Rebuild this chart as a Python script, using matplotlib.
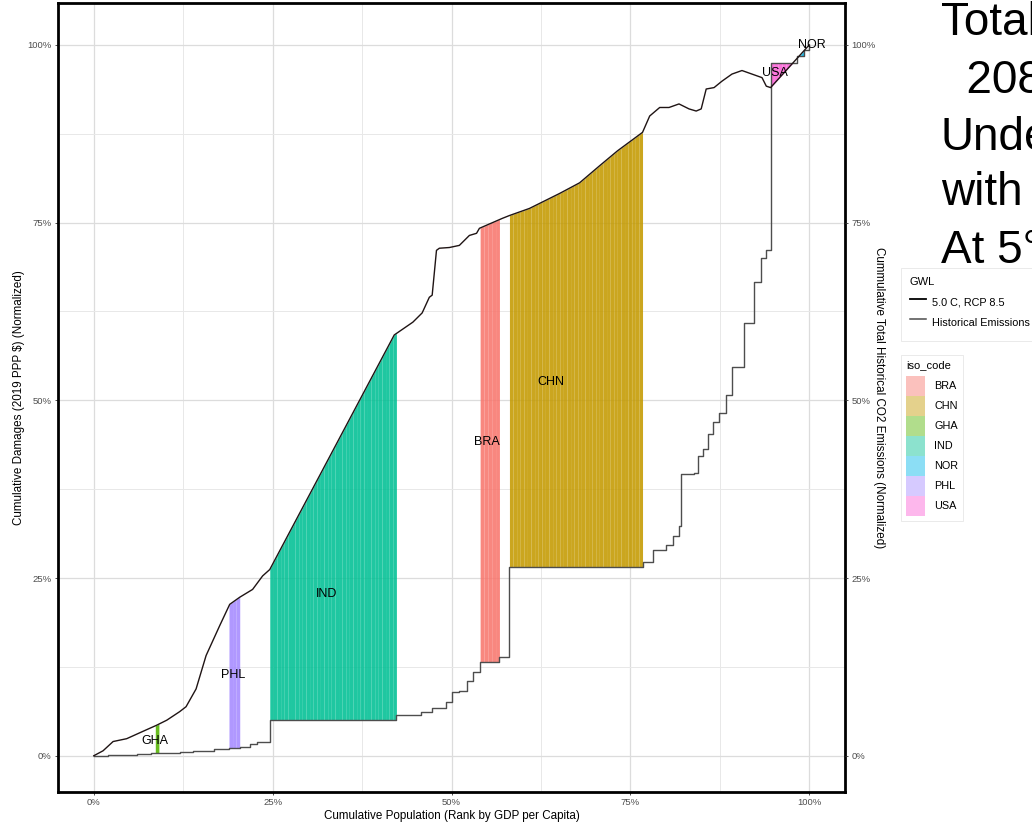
import numpy as np
import matplotlib
matplotlib.use("Agg")
import matplotlib.pyplot as plt
from matplotlib.lines import Line2D
from matplotlib.patches import Patch
from matplotlib.ticker import FuncFormatter, MultipleLocator

plt.rcParams['font.family'] = ['Liberation Sans', 'DejaVu Sans']

# Cumulative damages under 5.0 C / RCP 8.5 (x: cumulative population %, y: cumulative damages %)
damage_pop = [0, 1.3, 2.7, 4.6, 6.8, 8.8, 10.2, 12.0, 12.9, 14.3, 15.7, 17.6, 19.0, 20.4,
              22.2, 23.6, 24.6, 42.0, 44.6, 45.9, 46.9, 47.3, 47.9, 48.3, 49.7, 51.1, 52.5,
              53.5, 53.9, 57.1, 58.1, 60.9, 65.1, 67.9, 70.7, 73.2, 76.7, 77.7, 79.1, 80.4,
              81.8, 83.2, 84.2, 84.9, 85.6, 86.7, 87.8, 89.2, 90.6, 92.0, 93.4, 94.0, 94.6, 100]
damage_share = [0, 0.7, 2.0, 2.4, 3.4, 4.3, 5.0, 6.2, 6.9, 9.4, 14.1, 18.3, 21.3, 22.3,
                23.4, 25.3, 26.2, 59.2, 61.0, 62.3, 64.5, 64.8, 71.1, 71.4, 71.5, 71.8, 73.2,
                73.5, 74.2, 75.6, 76.0, 77.0, 79.1, 80.6, 83.0, 85.1, 87.7, 90.0, 91.2, 91.2,
                91.7, 91.0, 90.7, 91.0, 93.8, 94.0, 94.9, 95.9, 96.4, 95.9, 95.4, 94.2, 94.0, 100]

# Cumulative historical CO2 emissions (step function, value holds from each x onward)
emis_pop = [0, 2, 4, 6, 8, 8.6, 10, 12, 13.8, 16.8, 18.7, 18.9, 20.5, 21.8, 22.8, 24.6,
            42.3, 45.8, 47.3, 49.3, 50.1, 51.1, 52.2, 53.0, 54.0, 56.7, 58.1, 76.7, 78.1,
            80.0, 80.9, 81.8, 82.1, 83.9, 84.4, 85.1, 85.8, 86.5, 87.4, 88.4, 89.2, 90.9,
            92.3, 93.3, 93.9, 94.6, 98.3, 99.2, 100]
emis_share = [0, 0.08, 0.15, 0.25, 0.33, 0.4, 0.45, 0.55, 0.65, 0.9, 1.0, 1.15, 1.3, 1.7,
              2.0, 5.0, 5.7, 6.2, 6.7, 7.6, 9.0, 9.1, 10.5, 11.8, 13.2, 13.9, 26.6, 27.3,
              29.0, 29.7, 30.9, 32.3, 39.6, 39.8, 42.1, 43.1, 45.2, 47.0, 48.2, 50.8, 54.7,
              60.9, 66.6, 70.0, 71.1, 97.4, 98.4, 99.3, 100]

# Legend levels and ggplot hue palette
iso_codes = ["BRA", "CHN", "GHA", "IND", "NOR", "PHL", "USA"]
iso_colors = ["#F8766D", "#C49A00", "#53B400", "#00C094", "#00B6EB", "#A58AFF", "#FB61D7"]

# Highlighted countries: population band and label anchor
band_iso = ["GHA", "PHL", "IND", "BRA", "CHN", "USA", "NOR"]
band_start = [8.6, 18.9, 24.6, 54.0, 58.1, 94.6, 98.4]
band_end = [9.1, 20.4, 42.3, 56.7, 76.7, 97.8, 99.3]
label_x = [8.6, 19.5, 32.5, 54.9, 63.9, 95.2, 100.4]
label_y = [2.1, 11.3, 22.7, 44.2, 52.6, 96.1, 100.0]

side_text = ["Total", "  2080", "Under", "with", "At 5°C"]

emis_pop_a = np.array(emis_pop)
emis_share_a = np.array(emis_share)


def emissions_at(x):
    idx = np.searchsorted(emis_pop_a, x, side="right") - 1
    return emis_share_a[np.clip(idx, 0, None)]


fig = plt.figure(figsize=(10.32, 8.23), dpi=100)
ax = fig.add_axes([58 / 1032, 1 - 792 / 823, (845 - 58) / 1032, (792 - 3) / 823])
ax.set_xlim(-5, 105)
ax.set_ylim(-5.1, 105.9)

color_of = dict(zip(iso_codes, iso_colors))

# Country bands between the emissions step curve and the damages curve
for iso, a, b in zip(band_iso, band_start, band_end):
    base = emissions_at((a + b) / 2)
    n = max(1, int(round((b - a) / 0.5)))
    edges = np.linspace(a, b, n + 1)
    for lo, hi in zip(edges[:-1], edges[1:]):
        xs = np.linspace(lo, hi, 6)
        top = np.interp(xs, damage_pop, damage_share)
        ax.fill_between(xs, base, top, color=color_of[iso], alpha=0.88,
                        linewidth=0, zorder=2)

ax.step(emis_pop, emis_share, where="post", color="#4d4d4d", lw=1.0, zorder=3)
ax.plot(damage_pop, damage_share, color="#1f1414", lw=1.0, zorder=4)

for iso, lx, ly in zip(band_iso, label_x, label_y):
    ax.text(lx, ly, iso, ha="center", va="center", fontsize=9, color="black", zorder=5)

pct = FuncFormatter(lambda v, p: f"{v:.0f}%")
for axis in (ax.xaxis, ax.yaxis):
    axis.set_major_locator(MultipleLocator(25))
    axis.set_minor_locator(MultipleLocator(12.5))
    axis.set_major_formatter(pct)
ax.grid(which="major", color="#DCDCDC", lw=0.9)
ax.grid(which="minor", color="#E8E8E8", lw=0.7)
ax.set_axisbelow(True)
ax.tick_params(which="major", length=2.5, width=0.6, color="#333333",
               labelsize=6.8, labelcolor="#4D4D4D", pad=2)
ax.tick_params(which="minor", length=0)
for sp in ax.spines.values():
    sp.set_linewidth(2.0)
    sp.set_color("black")

ax.set_xlabel("Cumulative Population (Rank by GDP per Capita)", fontsize=8.4, labelpad=2)
ax.set_ylabel("Cumulative Damages (2019 PPP \\$) (Normalized)", fontsize=8.4, labelpad=2)

ax2 = ax.twinx()
ax2.set_ylim(ax.get_ylim())
ax2.yaxis.set_major_locator(MultipleLocator(25))
ax2.yaxis.set_major_formatter(pct)
ax2.tick_params(which="major", length=2.5, width=0.6, color="#333333",
                labelsize=6.8, labelcolor="#4D4D4D", pad=2)
for sp in ax2.spines.values():
    sp.set_visible(False)
ax2.set_ylabel("Cummulative Total Historical CO2 Emissions (Normalized)", fontsize=8.4,
               rotation=270, labelpad=7)

# Legends
gwl_handles = [Line2D([], [], color="black", lw=1.3),
               Line2D([], [], color="#4d4d4d", lw=1.1)]
leg1 = fig.legend(gwl_handles, ["5.0 C, RCP 8.5", "Historical Emissions"], title="GWL",
                  loc="upper left", bbox_to_anchor=(901 / 1032, 1 - 268 / 823),
                  fontsize=7.8, title_fontsize=8, frameon=True, fancybox=False,
                  edgecolor="#E0E0E0", handlelength=1.5, handleheight=2.46,
                  labelspacing=0.0, alignment="left", borderpad=0.8, handletextpad=0.6,
                  borderaxespad=0)
leg1.get_frame().set_linewidth(0.6)
leg1._legend_box.sep = 4

iso_handles = [Patch(facecolor=c, alpha=0.45, edgecolor="none") for c in iso_colors]
leg2 = fig.legend(iso_handles, iso_codes, title="iso_code",
                  loc="upper left", bbox_to_anchor=(901 / 1032, 1 - 355 / 823),
                  fontsize=7.8, title_fontsize=8, frameon=True, fancybox=False,
                  edgecolor="#E0E0E0", handlelength=1.75, handleheight=2.46,
                  labelspacing=0.0, alignment="left", borderpad=0.5, handletextpad=0.8,
                  borderaxespad=0)
leg2.get_frame().set_linewidth(0.6)
leg2._legend_box.sep = 4

baselines = [35, 93, 150, 205, 263]
for s, yb in zip(side_text, baselines):
    fig.text(941 / 1032, 1 - yb / 823, s, fontsize=33, va="baseline", ha="left",
             color="black")

fig.savefig("out.png", dpi=100)
